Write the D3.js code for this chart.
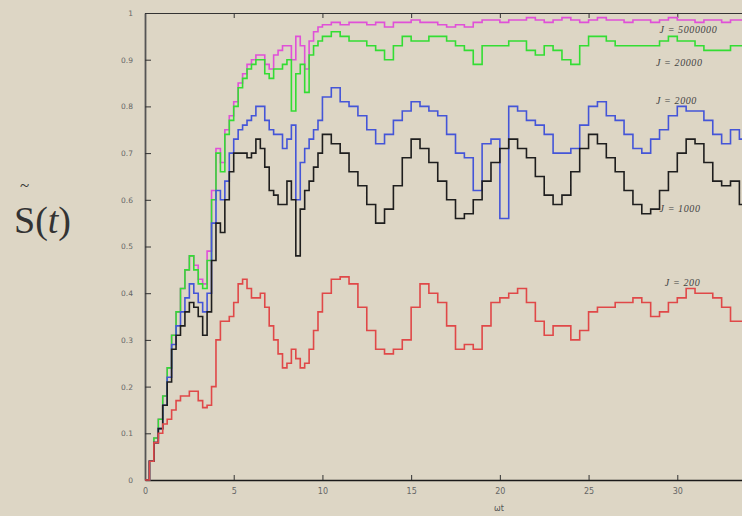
<!DOCTYPE html>
<html>
<head>
<meta charset="utf-8">
<script src="https://cdn.jsdelivr.net/npm/d3@7"></script>
<style>
body { margin: 0; background: #ddd6c5; }
svg { display: block; }
</style>
</head>
<body>
<svg width="742" height="516"></svg>
<script>
// sample times (omega t)
var times = [0,0.25,0.5,0.75,1,1.25,1.5,1.75,2,2.25,2.5,2.75,3,3.25,3.5,3.75,4,4.25,4.5,4.75,
    5,5.25,5.5,5.75,6,6.25,6.5,6.75,7,7.25,7.5,7.75,8,8.25,8.5,8.75,9,9.25,9.5,9.75,10,
    10.5,11,11.5,12,12.5,13,13.5,14,14.5,15,15.5,16,16.5,17,17.5,18,18.5,19,19.5,20,
    20.5,21,21.5,22,22.5,23,23.5,24,24.5,25,25.5,26,26.5,27,27.5,28,28.5,29,29.5,30,
    30.5,31,31.5,32,32.5,33,33.5,34];

var j5000000 = [0,0.04,0.09,0.13,0.18,0.24,0.31,0.36,0.41,0.45,0.48,0.46,0.43,0.42,0.49,0.62,0.71,0.68,0.75,0.78,
    0.81,0.85,0.87,0.89,0.90,0.91,0.91,0.89,0.88,0.91,0.92,0.93,0.93,0.90,0.95,0.93,0.88,0.94,0.96,0.97,0.975,
    0.98,0.975,0.98,0.98,0.975,0.98,0.97,0.98,0.98,0.985,0.98,0.98,0.975,0.97,0.975,0.97,0.98,0.985,0.985,0.98,
    0.985,0.985,0.99,0.985,0.98,0.985,0.99,0.985,0.98,0.985,0.99,0.985,0.985,0.98,0.985,0.985,0.98,0.985,0.99,0.985,
    0.985,0.98,0.985,0.985,0.98,0.985,0.985,0.98];

var j20000 = [0,0.04,0.09,0.13,0.18,0.24,0.31,0.36,0.41,0.45,0.48,0.45,0.42,0.41,0.47,0.60,0.70,0.66,0.74,0.77,
    0.80,0.84,0.86,0.88,0.89,0.90,0.90,0.87,0.86,0.88,0.88,0.89,0.90,0.79,0.87,0.89,0.83,0.91,0.93,0.94,0.95,
    0.96,0.95,0.94,0.94,0.93,0.92,0.90,0.93,0.95,0.94,0.94,0.95,0.95,0.94,0.93,0.92,0.89,0.93,0.93,0.93,
    0.94,0.94,0.92,0.91,0.93,0.92,0.90,0.89,0.93,0.95,0.95,0.94,0.93,0.93,0.93,0.93,0.93,0.94,0.95,0.94,
    0.94,0.93,0.92,0.92,0.92,0.93,0.93,0.93];

var j2000 = [0,0.04,0.08,0.11,0.16,0.22,0.29,0.33,0.36,0.39,0.42,0.40,0.38,0.36,0.40,0.55,0.62,0.60,0.64,0.70,
    0.73,0.75,0.76,0.77,0.78,0.80,0.80,0.77,0.75,0.74,0.74,0.71,0.73,0.76,0.60,0.68,0.71,0.73,0.75,0.77,0.82,
    0.84,0.81,0.80,0.78,0.75,0.72,0.74,0.77,0.79,0.81,0.80,0.79,0.78,0.74,0.70,0.69,0.62,0.72,0.73,0.56,
    0.80,0.79,0.77,0.76,0.74,0.70,0.70,0.71,0.76,0.80,0.81,0.78,0.77,0.74,0.71,0.70,0.73,0.75,0.78,0.80,
    0.79,0.79,0.77,0.74,0.72,0.75,0.73,0.72];

var j1000 = [0,0.04,0.08,0.11,0.16,0.21,0.28,0.31,0.33,0.36,0.38,0.37,0.35,0.31,0.36,0.47,0.55,0.53,0.60,0.66,
    0.70,0.70,0.70,0.69,0.70,0.73,0.71,0.67,0.62,0.61,0.59,0.59,0.64,0.60,0.48,0.58,0.62,0.64,0.67,0.70,0.74,
    0.72,0.70,0.66,0.63,0.59,0.55,0.58,0.63,0.69,0.73,0.71,0.68,0.64,0.60,0.56,0.57,0.60,0.64,0.68,0.71,
    0.73,0.71,0.69,0.65,0.61,0.59,0.61,0.66,0.71,0.74,0.72,0.69,0.66,0.62,0.59,0.57,0.58,0.62,0.66,0.70,
    0.73,0.72,0.68,0.64,0.63,0.64,0.59,0.58];

var j200 = [0,0.04,0.08,0.10,0.12,0.13,0.15,0.17,0.18,0.18,0.19,0.19,0.17,0.155,0.16,0.20,0.30,0.34,0.34,0.35,
    0.38,0.42,0.43,0.41,0.39,0.39,0.40,0.37,0.33,0.30,0.27,0.24,0.25,0.28,0.26,0.24,0.25,0.28,0.32,0.36,0.40,
    0.43,0.435,0.42,0.37,0.32,0.28,0.27,0.28,0.30,0.37,0.42,0.40,0.38,0.33,0.28,0.29,0.28,0.33,0.38,0.39,
    0.40,0.41,0.38,0.34,0.31,0.33,0.33,0.30,0.32,0.36,0.37,0.37,0.38,0.38,0.39,0.38,0.35,0.36,0.38,0.39,
    0.41,0.40,0.40,0.39,0.37,0.34,0.34,0.33];

var seriesLabels = ['J = 5000000', 'J = 20000', 'J = 2000', 'J = 1000', 'J = 200'];
var xTicks = [0, 5, 10, 15, 20, 25, 30];
var yTicks = [0, 0.1, 0.2, 0.3, 0.4, 0.5, 0.6, 0.7, 0.8, 0.9, 1];

var svg = d3.select('svg');

var x = d3.scaleLinear().domain([0, 35]).range([145, 766]);
var y = d3.scaleLinear().domain([0, 1]).range([480, 13]);

// axes
svg.append('g')
    .attr('transform', 'translate(0,480)')
    .call(d3.axisBottom(x).tickValues(xTicks).tickSize(-5).tickPadding(8).tickSizeOuter(0))
    .call(function(g) {
        g.select('.domain').attr('stroke', '#1a1a1a').attr('stroke-width', 1.6);
        g.selectAll('.tick line').attr('stroke', '#333');
        g.selectAll('text').attr('font-family', 'DejaVu Sans').attr('font-size', 8).attr('fill', '#666');
    });

svg.append('g')
    .attr('transform', 'translate(0,13)')
    .call(d3.axisTop(x).tickValues(xTicks).tickSize(-5).tickFormat('').tickSizeOuter(0))
    .call(function(g) {
        g.select('.domain').attr('stroke', '#333').attr('stroke-width', 1.2);
        g.selectAll('.tick line').attr('stroke', '#333');
    });

svg.append('g')
    .attr('transform', 'translate(145,0)')
    .call(d3.axisLeft(y).tickValues(yTicks).tickSize(-6).tickPadding(12).tickSizeOuter(0)
        .tickFormat(function(d) { return String(d); }))
    .call(function(g) {
        g.select('.domain').attr('stroke', '#555').attr('stroke-width', 1.8);
        g.selectAll('.tick line').attr('stroke', '#333');
        g.selectAll('text').attr('font-family', 'DejaVu Sans').attr('font-size', 7.5).attr('fill', '#666');
    });

// lines
var line = d3.line()
    .x(function(d, i) { return x(times[i]); })
    .y(function(d) { return y(d); })
    .curve(d3.curveStepAfter);

var series = [
    { values: j5000000, color: '#e050d8' },
    { values: j20000, color: '#33dd33' },
    { values: j2000, color: '#4455d8' },
    { values: j1000, color: '#1e1e1e' },
    { values: j200, color: '#e04848' }
];

series.forEach(function(s) {
    svg.append('path')
        .datum(s.values)
        .attr('d', line)
        .attr('fill', 'none')
        .attr('stroke', s.color)
        .attr('stroke-width', 1.6);
});

// curve labels
var labelPos = [[29.0, 0.957], [28.8, 0.886], [28.8, 0.805], [29.0, 0.574], [29.3, 0.415]];
seriesLabels.forEach(function(t, i) {
    svg.append('text')
        .attr('x', x(labelPos[i][0]))
        .attr('y', y(labelPos[i][1]))
        .attr('font-family', 'Liberation Serif')
        .attr('font-style', 'italic')
        .attr('font-size', 10)
        .attr('letter-spacing', 0.6)
        .attr('fill', '#444')
        .text(t);
});

// x label
svg.append('text')
    .attr('x', 499)
    .attr('y', 511)
    .attr('text-anchor', 'middle')
    .attr('font-family', 'DejaVu Sans')
    .attr('font-size', 8)
    .attr('fill', '#555')
    .text('ωt');

// y label S~(t)
var yl = svg.append('text')
    .attr('x', 14)
    .attr('y', 233)
    .attr('font-family', 'Liberation Serif')
    .attr('font-size', 38)
    .attr('fill', '#333');
yl.append('tspan').text('S(');
yl.append('tspan').attr('font-style', 'italic').text('t');
yl.append('tspan').text(')');

svg.append('text')
    .attr('x', 20)
    .attr('y', 191)
    .attr('font-family', 'Liberation Serif')
    .attr('font-size', 17)
    .attr('fill', '#333')
    .text('~');
</script>
</body>
</html>
